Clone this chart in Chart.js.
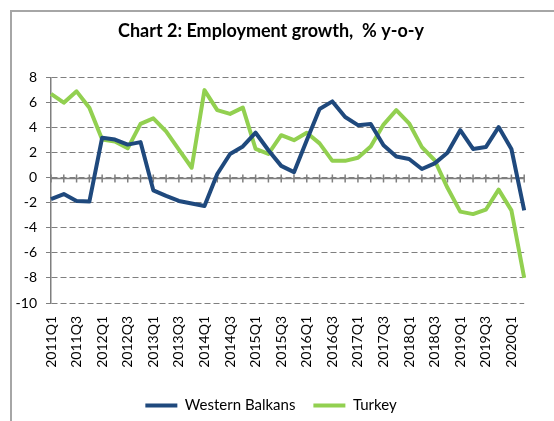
<!DOCTYPE html>
<html>
<head>
<meta charset="utf-8">
<script src="https://cdn.jsdelivr.net/npm/chart.js@4.4.1/dist/chart.umd.min.js"></script>
<style>
  body { margin: 0; background: #fff; }
  #frame {
    position: absolute; left: 10px; top: 10px; right: 0; bottom: 0;
    border-left: 2px solid #a6a6a6; border-top: 2px solid #a6a6a6;
  }
  #wrap { position: absolute; left: 0; top: 0; width: 554px; height: 421px; }
</style>
</head>
<body>
<div id="frame"></div>
<div id="wrap"><canvas id="empChart"></canvas></div>
<script>
// --- Data ---
const quarters = [
  '2011Q1', '2011Q2', '2011Q3', '2011Q4', '2012Q1', '2012Q2', '2012Q3', '2012Q4',
  '2013Q1', '2013Q2', '2013Q3', '2013Q4', '2014Q1', '2014Q2', '2014Q3', '2014Q4',
  '2015Q1', '2015Q2', '2015Q3', '2015Q4', '2016Q1', '2016Q2', '2016Q3', '2016Q4',
  '2017Q1', '2017Q2', '2017Q3', '2017Q4', '2018Q1', '2018Q2', '2018Q3', '2018Q4',
  '2019Q1', '2019Q2', '2019Q3', '2019Q4', '2020Q1', '2020Q2'
];
const westernBalkans = [
  -1.7, -1.3, -1.85, -1.9, 3.2, 3.05, 2.65, 2.85,
  -1.0, -1.45, -1.85, -2.05, -2.25, 0.3, 1.9, 2.5,
  3.6, 2.2, 0.95, 0.45, 3.0, 5.5, 6.1, 4.85,
  4.2, 4.3, 2.6, 1.7, 1.5, 0.7, 1.15, 2.0,
  3.8, 2.3, 2.45, 4.05, 2.3, -2.6
];
const turkey = [
  6.7, 6.0, 6.9, 5.6, 3.05, 2.9, 2.35, 4.3,
  4.75, 3.7, 2.25, 0.8, 7.0, 5.4, 5.1, 5.6,
  2.3, 1.9, 3.4, 3.0, 3.6, 2.75, 1.35, 1.35,
  1.6, 2.5, 4.25, 5.4, 4.35, 2.45, 1.4, -0.8,
  -2.7, -2.9, -2.55, -0.95, -2.6, -8.0
];
const yTicks = { min: -10, max: 8, step: 2 };

const BLUE = '#1f497d';
const GREEN = '#92d050';
const AXIS = '#7f7f7f';
const FONT = 'Lato, "Liberation Sans", sans-serif';

// zero axis with a tick mark for every quarter, drawn under the lines
const zeroAxis = {
  id: 'zeroAxis',
  beforeDatasetsDraw(chart) {
    const { ctx, chartArea, scales: { x, y } } = chart;
    const y0 = Math.round(y.getPixelForValue(0)) + 0.5;
    ctx.save();
    ctx.strokeStyle = AXIS;
    ctx.lineWidth = 1.5;
    ctx.beginPath();
    ctx.moveTo(chartArea.left, y0);
    ctx.lineTo(chartArea.right, y0);
    quarters.forEach((q, i) => {
      const px = x.getPixelForValue(i);
      ctx.moveTo(px, y0 - 4);
      ctx.lineTo(px, y0 + 4);
    });
    ctx.stroke();
    ctx.restore();
  }
};

new Chart(document.getElementById('empChart'), {
  type: 'line',
  data: {
    labels: quarters,
    datasets: [
      { label: 'Western Balkans', data: westernBalkans, borderColor: BLUE, backgroundColor: BLUE, borderWidth: 4 },
      { label: 'Turkey', data: turkey, borderColor: GREEN, backgroundColor: GREEN, borderWidth: 4 }
    ]
  },
  options: {
    responsive: true,
    maintainAspectRatio: false,
    animation: false,
    layout: { padding: { top: 20, left: 9, right: 21, bottom: -2 } },
    elements: {
      line: { tension: 0, borderJoinStyle: 'round' },
      point: { radius: 0 }
    },
    plugins: {
      title: {
        display: true,
        text: 'Chart 2: Employment growth,  % y-o-y',
        color: '#000',
        font: { family: FONT, size: 18, weight: 'bold' },
        padding: { top: 0, bottom: 36 }
      },
      legend: {
        position: 'bottom',
        labels: {
          color: '#000',
          font: { family: FONT, size: 15 },
          usePointStyle: true,
          pointStyle: 'line',
          pointStyleWidth: 32,
          padding: 18
        }
      },
      tooltip: { enabled: false }
    },
    scales: {
      x: {
        grid: { display: false, drawTicks: false },
        border: { display: false },
        ticks: {
          autoSkip: false,
          maxRotation: 90,
          minRotation: 90,
          padding: 13,
          color: '#000',
          font: { family: FONT, size: 14 },
          callback: (v, i) => (i % 2 === 0 ? quarters[i] : '')
        },
        afterFit: (s) => { s.height = 77; }
      },
      y: {
        min: yTicks.min,
        max: yTicks.max,
        ticks: { stepSize: yTicks.step, padding: 9, color: '#000', font: { family: FONT, size: 14 } },
        grid: { color: AXIS, lineWidth: 1, tickLength: 5, tickColor: AXIS },
        border: { display: true, color: AXIS, width: 1.5, dash: [6, 3] },
        afterFit: (s) => { s.width = 42; }
      }
    }
  },
  plugins: [zeroAxis]
});
</script>
</body>
</html>
